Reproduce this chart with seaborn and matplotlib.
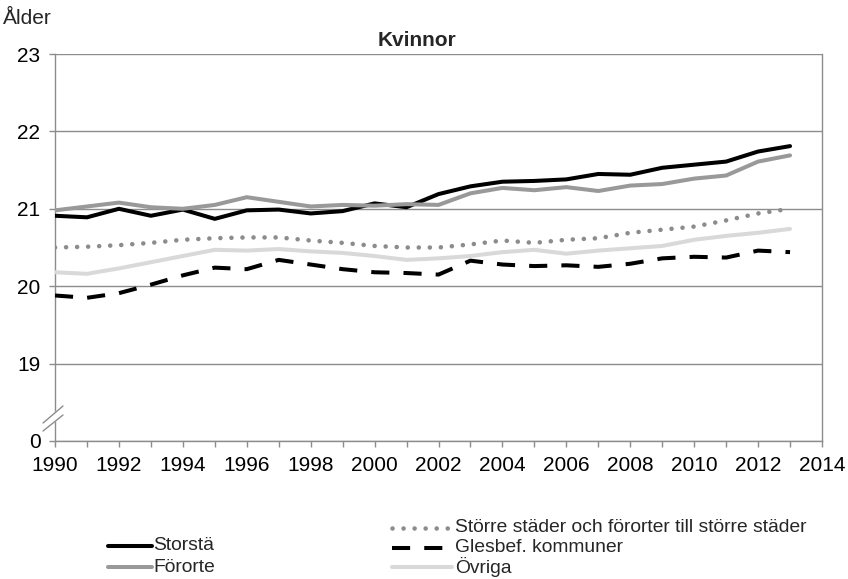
import numpy as np
import pandas as pd
import matplotlib
matplotlib.use("Agg")
import matplotlib.pyplot as plt
from matplotlib.lines import Line2D
from matplotlib.transforms import Bbox, TransformedBbox
import seaborn as sns

# ---------------- data ----------------
years = list(range(1990, 2014))
storstader = [20.91, 20.89, 21.00, 20.91, 20.99, 20.87, 20.98, 20.99, 20.94, 20.97,
              21.07, 21.02, 21.19, 21.29, 21.35, 21.36, 21.38, 21.45, 21.44, 21.53,
              21.57, 21.61, 21.74, 21.81]
fororter = [20.98, 21.03, 21.08, 21.02, 21.00, 21.05, 21.15, 21.09, 21.03, 21.05,
            21.04, 21.06, 21.05, 21.20, 21.27, 21.24, 21.28, 21.23, 21.30, 21.32,
            21.39, 21.43, 21.61, 21.69]
storre_stader = [20.50, 20.51, 20.53, 20.56, 20.60, 20.62, 20.63, 20.63, 20.59, 20.56,
                 20.52, 20.50, 20.50, 20.54, 20.59, 20.56, 20.60, 20.62, 20.69, 20.73,
                 20.77, 20.85, 20.94, 21.00]
glesbef = [19.88, 19.85, 19.91, 20.02, 20.14, 20.24, 20.22, 20.34, 20.28, 20.22,
           20.18, 20.17, 20.15, 20.33, 20.28, 20.26, 20.27, 20.25, 20.29, 20.36,
           20.38, 20.37, 20.46, 20.44]
ovriga = [20.18, 20.16, 20.23, 20.31, 20.39, 20.47, 20.46, 20.48, 20.45, 20.43,
          20.39, 20.34, 20.36, 20.39, 20.44, 20.47, 20.42, 20.46, 20.49, 20.52,
          20.60, 20.65, 20.69, 20.74]

series_names = ["Storstäder", "Förorter",
                "Större städer och förorter till större städer",
                "Glesbef. kommuner", "Övriga"]
series_values = [storstader, fororter, storre_stader, glesbef, ovriga]

title_text = "Kvinnor"
y_title = "Ålder"
# the axis is broken: position 18 carries the label "0"
ytick_positions = [18, 19, 20, 21, 22, 23]
ytick_labels = ["0", "19", "20", "21", "22", "23"]
xtick_major = list(range(1990, 2015, 2))
xtick_minor = list(range(1991, 2014, 2))

df = pd.DataFrame({
    "År": np.tile(years, len(series_names)),
    "Ålder": np.concatenate(series_values),
    "Område": np.repeat(series_names, len(years)),
})

# ---------------- style ----------------
sns.set_style("white")
plt.rcParams["font.family"] = ["Liberation Sans", "DejaVu Sans"]

GRID = "#8c8c8c"
palette = {series_names[0]: "#000000", series_names[1]: "#999999",
           series_names[2]: "#8c8c8c", series_names[3]: "#000000",
           series_names[4]: "#d9d9d9"}
dash_map = {series_names[0]: "", series_names[1]: "",
            series_names[2]: (0.01, 2.4), series_names[3]: (4.5, 3.5),
            series_names[4]: ""}
LW = 2.9
DOT_LW = 3.3

W, H = 848, 579
fig = plt.figure(figsize=(W / 100, H / 100), dpi=100)
ax = fig.add_axes([55 / W, 1 - 441 / H, (822 - 55) / W, (441 - 54) / H])

sns.lineplot(data=df, x="År", y="Ålder", hue="Område", style="Område",
             hue_order=series_names, style_order=series_names,
             palette=palette, dashes=dash_map, linewidth=LW,
             legend=False, ax=ax, zorder=3)

for line, name in zip(ax.lines, series_names):
    if name == series_names[2]:
        line.set_dash_capstyle("round")
        line.set_linewidth(DOT_LW)
    line.set_solid_capstyle("round")

ax.set_xlim(1990, 2014)
ax.set_ylim(18, 23)
ax.set_yticks(ytick_positions)
ax.set_yticklabels(ytick_labels)
ax.set_xticks(xtick_major)
ax.set_xticklabels([str(y) for y in xtick_major])
ax.set_xticks(xtick_minor, minor=True)
ax.set_xlabel("")
ax.set_ylabel("")

ax.yaxis.grid(True, color=GRID, lw=1.0, zorder=0)
ax.set_axisbelow(True)
for side in ["left", "bottom", "right"]:
    ax.spines[side].set_visible(True)
    ax.spines[side].set_color(GRID)
    ax.spines[side].set_linewidth(1.0)
ax.spines["top"].set_visible(False)

ax.tick_params(axis="both", which="both", direction="out", length=4.5,
               width=1.0, color=GRID, labelsize=15, pad=6,
               bottom=True, left=True, labelcolor="black")
ax.tick_params(axis="x", which="minor", length=4.5)

# axis break marks on the y axis between 0 and 19
bx = [-0.0156, 0.0104]
low = [0.0258, 0.0672]
high = [0.0465, 0.0904]
ax.fill([bx[0], bx[1], bx[1], bx[0]], [low[0], low[1], high[1], high[0]],
        color="white", transform=ax.transAxes, clip_on=False, zorder=5)
ax.plot(bx, low, color=GRID, lw=1.0, transform=ax.transAxes, clip_on=False, zorder=6)
ax.plot(bx, high, color=GRID, lw=1.0, transform=ax.transAxes, clip_on=False, zorder=6)

# titles
fig.text(417 / W, 1 - 40 / H, title_text, ha="center", va="center",
         fontsize=15, fontweight="bold")
fig.text(3 / W, 1 - 18 / H, y_title, ha="left", va="center", fontsize=15)

# legend (drawn below the plot, two groups as in the reference)
def legend_entry(name, x0, x1, xt, y, clip_right=None):
    st = dash_map[name]
    ln = Line2D([x0 / W, x1 / W], [1 - y / H, 1 - y / H], transform=fig.transFigure,
                color=palette[name], lw=LW)
    if st != "":
        ln.set_dashes(st)
        if name == series_names[2]:
            ln.set_dash_capstyle("round")
            ln.set_linewidth(DOT_LW)
    fig.add_artist(ln)
    t = fig.text(xt / W, 1 - y / H, name, ha="left", va="center", fontsize=13.85)
    if clip_right is not None:
        t.set_clip_box(TransformedBbox(Bbox([[0, 0], [clip_right / W, 1]]), fig.transFigure))
        t.set_clip_on(True)

legend_entry(series_names[0], 108, 152, 153, 546, clip_right=214)
legend_entry(series_names[1], 108, 152, 153, 567, clip_right=214)
legend_entry(series_names[2], 392, 452, 455, 528)
legend_entry(series_names[3], 392, 452, 455, 548)
legend_entry(series_names[4], 392, 452, 455, 567)

fig.savefig("out.png", dpi=100)
